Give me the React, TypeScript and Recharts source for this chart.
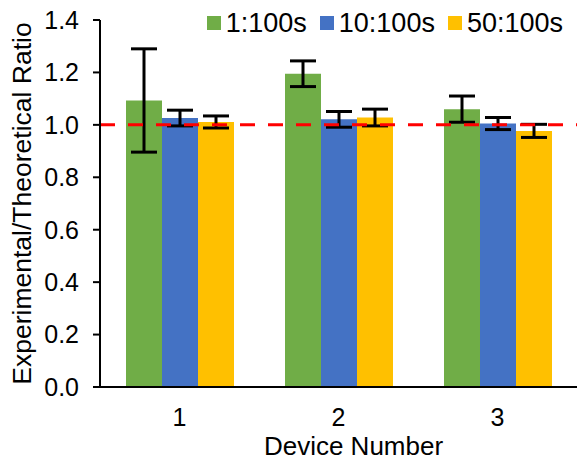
import { BarChart, Bar, XAxis, YAxis, ErrorBar, ReferenceLine, Legend } from "recharts"

// values
const DEVICES = ["1", "2", "3"]
const RATIO_1_100 = [1.093, 1.195, 1.06]
const ERR_1_100 = [0.197, 0.049, 0.05]
const RATIO_10_100 = [1.026, 1.021, 1.005]
const ERR_10_100 = [0.03, 0.03, 0.023]
const RATIO_50_100 = [1.011, 1.028, 0.977]
const ERR_50_100 = [0.023, 0.032, 0.025]
const Y_TICKS = [0, 0.2, 0.4, 0.6, 0.8, 1.0, 1.2, 1.4]

const SERIES = [
  { key: "s1", err: "e1", name: "1:100s", color: "#70AD47" },
  { key: "s2", err: "e2", name: "10:100s", color: "#4472C4" },
  { key: "s3", err: "e3", name: "50:100s", color: "#FFC000" },
]

const FONT = "'Liberation Sans', Arial, sans-serif"

const data = DEVICES.map((device, i) => ({
  device,
  s1: RATIO_1_100[i],
  e1: ERR_1_100[i],
  s2: RATIO_10_100[i],
  e2: ERR_10_100[i],
  s3: RATIO_50_100[i],
  e3: ERR_50_100[i],
}))

function renderLegend() {
  return (
    <div style={{ display: "flex", gap: 13, fontFamily: FONT, fontSize: 27, color: "#000" }}>
      {SERIES.map((s) => (
        <div key={s.key} style={{ display: "flex", alignItems: "center" }}>
          <span style={{ display: "inline-block", width: 14, height: 14, background: s.color, marginRight: 5 }} />
          <span style={{ lineHeight: "30px" }}>{s.name}</span>
        </div>
      ))}
    </div>
  )
}

export default function App() {
  return (
    <div style={{ position: "absolute", left: 0, top: 0, background: "#fff" }}>
      <BarChart
        width={577}
        height={460}
        data={data}
        margin={{ top: 20, right: 0, bottom: 0, left: 0 }}
        barCategoryGap={26}
        barGap={0}
      >
        <XAxis
          dataKey="device"
          height={73}
          tickLine={false}
          tickSize={0}
          tickMargin={21}
          axisLine={{ stroke: "#000", strokeWidth: 2 }}
          tick={{ fontSize: 25, fontFamily: FONT, fill: "#000" }}
          label={{
            value: "Device Number",
            position: "insideBottom",
            offset: 5,
            dx: 15,
            style: { fontSize: 26, fontFamily: FONT, fill: "#000" },
          }}
        />
        <YAxis
          width={100}
          domain={[0, 1.4]}
          ticks={Y_TICKS}
          interval={0}
          tickFormatter={(v: number) => v.toFixed(1)}
          tickSize={7}
          tickMargin={14}
          tickLine={{ stroke: "#000", strokeWidth: 2 }}
          axisLine={{ stroke: "#000", strokeWidth: 2 }}
          tick={{ fontSize: 25, fontFamily: FONT, fill: "#000" }}
          label={{
            value: "Experimental/Theoretical Ratio",
            angle: -90,
            position: "center",
            dx: -28,
            style: { fontSize: 26.5, fontFamily: FONT, fill: "#000", textAnchor: "middle" },
          }}
        />
        <Legend
          verticalAlign="top"
          align="right"
          content={renderLegend}
          wrapperStyle={{ top: 8, right: 14, left: "auto", width: "auto", height: 0, overflow: "visible" }}
        />
        {SERIES.map((s) => (
          <Bar key={s.key} dataKey={s.key} name={s.name} fill={s.color} isAnimationActive={false}>
            <ErrorBar dataKey={s.err} width={13} strokeWidth={3} stroke="#000" isAnimationActive={false} />
          </Bar>
        ))}
        <ReferenceLine y={1} stroke="#FF0000" strokeWidth={3} strokeDasharray="15 13" />
      </BarChart>
    </div>
  )
}
